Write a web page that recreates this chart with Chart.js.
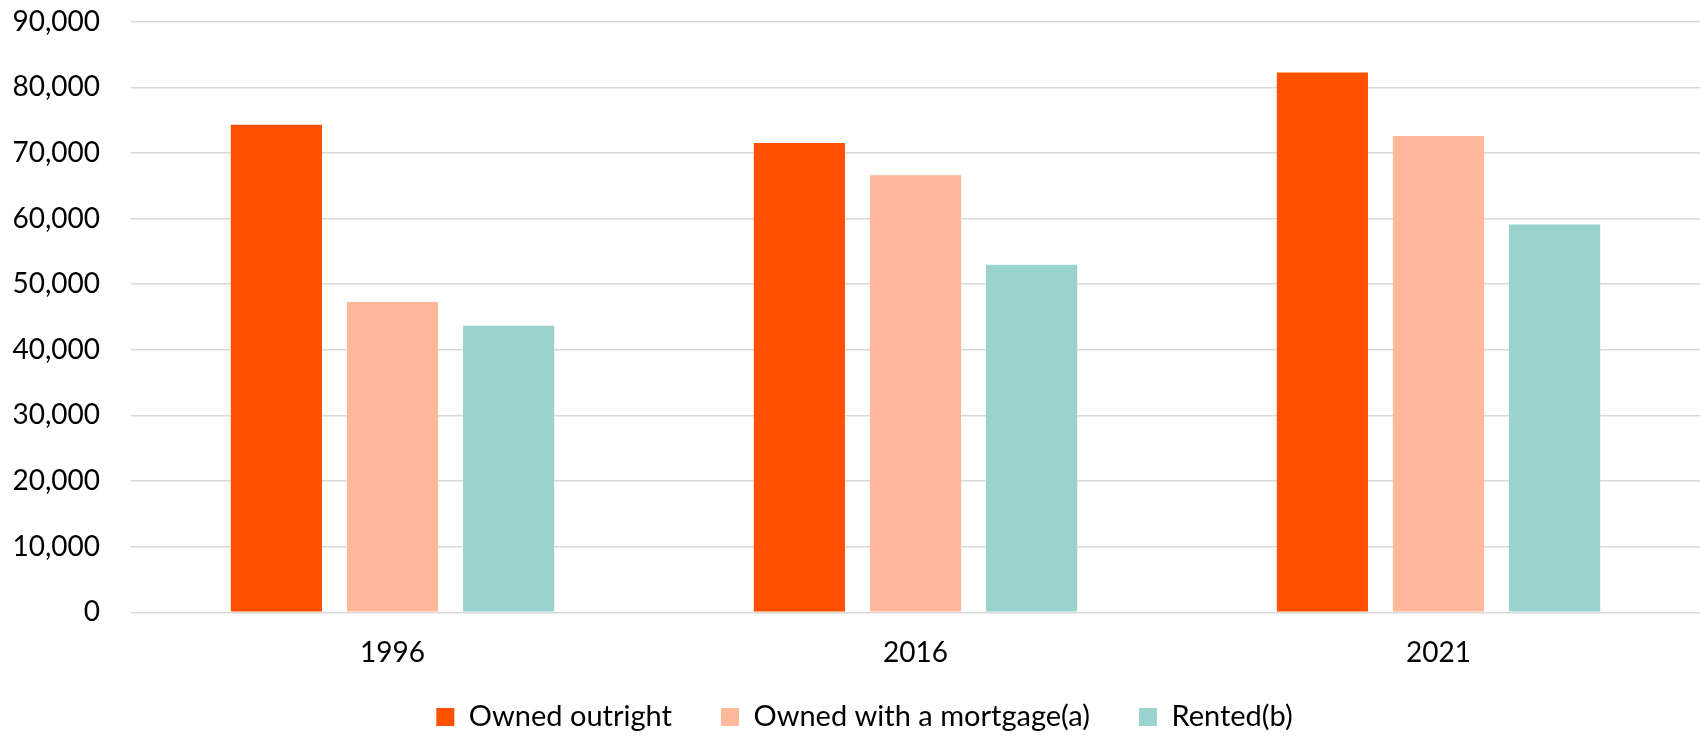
<!DOCTYPE html>
<html>
<head>
<meta charset="utf-8">
<script src="https://cdn.jsdelivr.net/npm/chart.js@4/dist/chart.umd.min.js"></script>
<style>
  html, body { margin: 0; padding: 0; background: #fff; }
  #wrap { width: 1700px; height: 736px; }
</style>
</head>
<body>
<div id="wrap"><canvas id="tenure-chart"></canvas></div>
<script>
const years = ['1996', '2016', '2021'];
const ownedOutright = [74300, 71500, 82250];
const ownedMortgage = [47300, 66600, 72600];
const rented = [43650, 52950, 59100];
const yTicks = [0, 10000, 20000, 30000, 40000, 50000, 60000, 70000, 80000, 90000];

const font = 'Lato, "Open Sans", sans-serif';

function makeSet(label, data, color) {
  return {
    label: label,
    data: data,
    backgroundColor: color,
    borderWidth: 0,
    categoryPercentage: 0.666,
    barPercentage: 0.785
  };
}

// legend in the original sits a bit right of centre and close under the years
const legendShift = {
  id: 'legendShift',
  afterLayout(chart) {
    const lg = chart.legend;
    lg.left += 14.5;
    lg.right += 14.5;
    lg.top -= 18.8;
    lg.bottom -= 18.8;
  }
};

const ctx = document.getElementById('tenure-chart').getContext('2d');
const chart = new Chart(ctx, {
  type: 'bar',
  data: {
    labels: years,
    datasets: [
      makeSet('Owned outright', ownedOutright, '#FF5100'),
      makeSet('Owned with a mortgage(a)', ownedMortgage, '#FFB899'),
      makeSet('Rented(b)', rented, '#9AD3CD')
    ]
  },
  options: {
    responsive: true,
    maintainAspectRatio: false,
    animation: false,
    layout: { padding: { top: 21.7, right: 0, bottom: -24.3, left: 0 } },
    plugins: {
      tooltip: { enabled: false },
      legend: {
        position: 'bottom',
        labels: {
          color: '#000',
          font: { family: font, size: 29 },
          boxWidth: 18,
          boxHeight: 18,
          padding: 49
        }
      }
    },
    scales: {
      x: {
        afterFit: axis => { axis.height = 60; },
        grid: { display: false, drawTicks: false },
        border: { display: false },
        ticks: {
          color: '#000',
          font: { family: font, size: 28 },
          padding: 24
        }
      },
      y: {
        min: 0,
        max: 90000,
        afterBuildTicks: axis => { axis.ticks = yTicks.map(v => ({ value: v })); },
        afterFit: axis => {
          axis.width = 131;
          axis.paddingTop = 0;
          axis.paddingBottom = 0;
        },
        grid: { color: '#D9D9D9', lineWidth: 1.5, drawTicks: false },
        border: { display: false },
        ticks: {
          color: '#000',
          font: { family: font, size: 28 },
          padding: 31,
          callback: v => v.toLocaleString('en-US')
        }
      }
    }
  },
  plugins: [legendShift]
});
</script>
</body>
</html>
